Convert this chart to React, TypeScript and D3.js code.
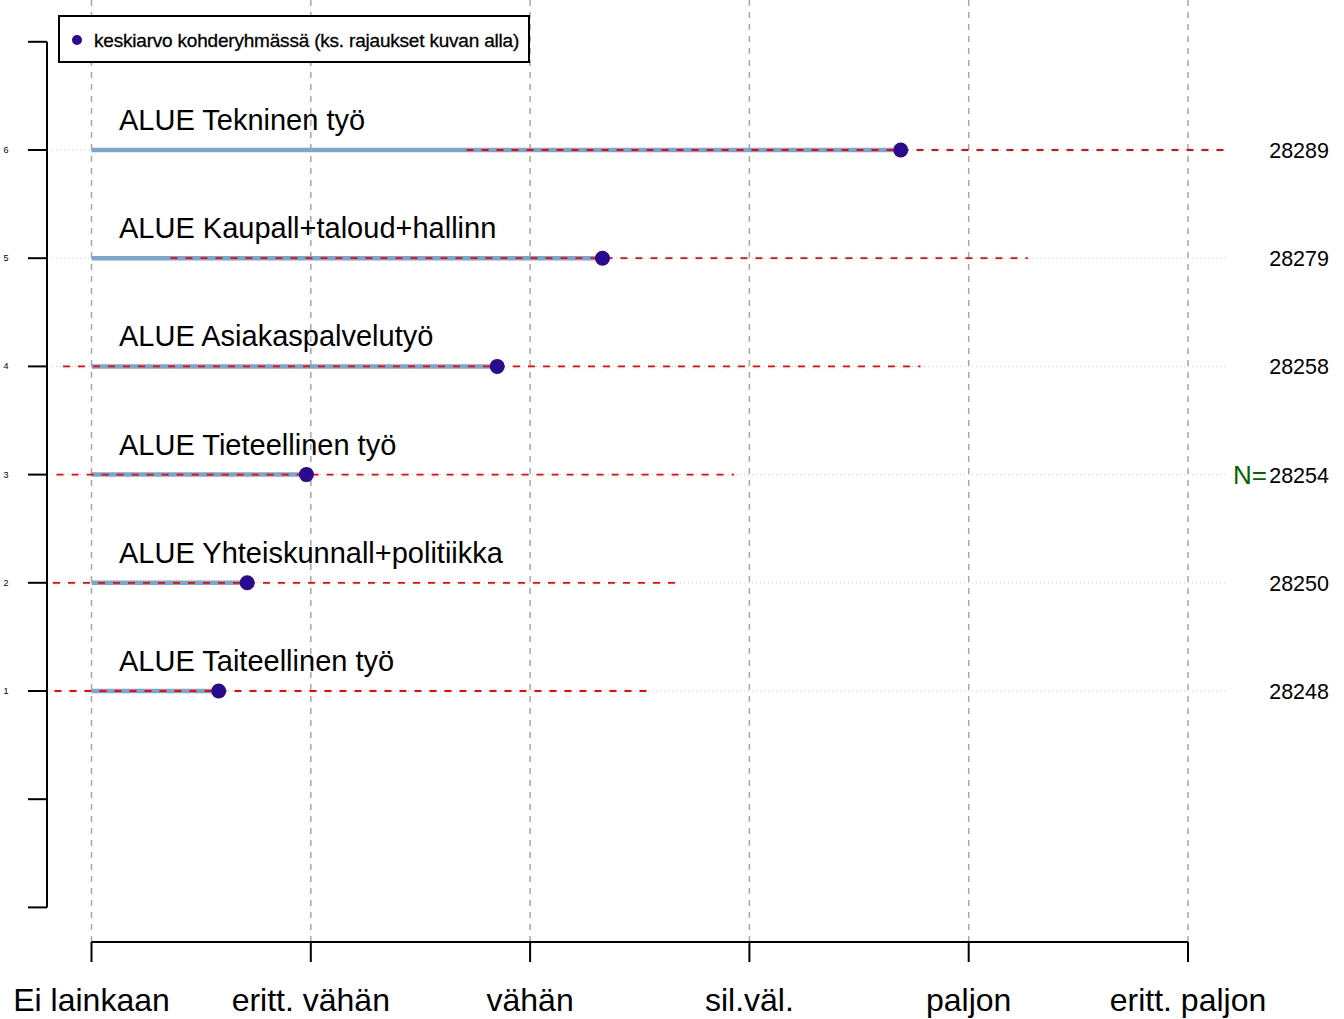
import React from "react";
import * as d3 from "d3";

const categories = [
  "ALUE Taiteellinen työ",
  "ALUE Yhteiskunnall+politiikka",
  "ALUE Tieteellinen työ",
  "ALUE Asiakaspalvelutyö",
  "ALUE Kaupall+taloud+hallinn",
  "ALUE Tekninen työ",
];
const means = [1.58, 1.71, 1.98, 2.85, 3.33, 4.69];
const lowerSD = [-0.4, -0.27, 0.02, 0.87, 1.36, 2.71];
const upperSD = [3.565, 3.69, 3.93, 4.78, 5.27, 6.64];
const nValues = [28248, 28250, 28254, 28258, 28279, 28289];
const rowIndex = [1, 2, 3, 4, 5, 6];
const xTickLabels = ["Ei lainkaan", "eritt. vähän", "vähän", "sil.väl.", "paljon", "eritt. paljon"];
const xTickValues = [1, 2, 3, 4, 5, 6];
const yAxisTicks = [-1, 0, 1, 2, 3, 4, 5, 6, 7];
const legendLabel = "keskiarvo kohderyhmässä (ks. rajaukset kuvan alla)";

export default function App() {
  const W = 1344;
  const H = 1019;
  const x = d3.scaleLinear().domain([1, 6]).range([91.5, 1188]);
  const y = d3.scaleLinear().domain([1, 6]).range([691, 150]);
  const clipL = 52;
  const clipR = 1228;
  const font = "'Liberation Sans', Arial, sans-serif";

  return (
    <svg
      width={W}
      height={H}
      style={{ position: "absolute", left: 0, top: 0, background: "#fff" }}
      fontFamily={font}
    >
      <defs>
        <clipPath id="plotclip">
          <rect x={clipL} y={0} width={clipR - clipL} height={H} />
        </clipPath>
      </defs>
      {/* vertical grid */}
      {xTickValues.map((v) => (
        <line
          key={"g" + v}
          x1={x(v)}
          x2={x(v)}
          y1={0}
          y2={942}
          stroke="#a6a6a6"
          strokeWidth={1.5}
          strokeDasharray="6,6"
        />
      ))}
      {/* dotted row lines */}
      {rowIndex.map((r) => (
        <line
          key={"d" + r}
          x1={clipL}
          x2={clipR}
          y1={y(r)}
          y2={y(r)}
          stroke="#cccccc"
          strokeWidth={1}
          strokeDasharray="1,3"
        />
      ))}
      {/* blue bars */}
      {rowIndex.map((r, i) => (
        <line
          key={"b" + r}
          x1={x(1)}
          x2={x(means[i])}
          y1={y(r)}
          y2={y(r)}
          stroke="#7BA6CD"
          strokeWidth={4.5}
        />
      ))}
      {/* red dashed sd lines */}
      <g clipPath="url(#plotclip)">
        {rowIndex.map((r, i) => (
          <line
            key={"r" + r}
            x1={x(lowerSD[i])}
            x2={x(upperSD[i])}
            y1={y(r)}
            y2={y(r)}
            stroke="#ff0000"
            strokeWidth={1.8}
            strokeDasharray="7,8"
          />
        ))}
      </g>
      {/* points */}
      {rowIndex.map((r, i) => (
        <circle key={"p" + r} cx={x(means[i])} cy={y(r)} r={7.5} fill="#2A0A8F" />
      ))}
      {/* category labels */}
      {rowIndex.map((r, i) => (
        <text key={"t" + r} x={119} y={y(r) - 20} fontSize={29} fill="#000">
          {categories[i]}
        </text>
      ))}
      {/* N labels */}
      {rowIndex.map((r, i) => (
        <text key={"n" + r} x={1329} y={y(r) + 8} fontSize={21.5} textAnchor="end" fill="#000">
          {nValues[i]}
        </text>
      ))}
      <text x={1267} y={y(3) + 9} fontSize={26} textAnchor="end" fill="#006400">
        N=
      </text>
      {/* left axis */}
      <line x1={47} x2={47} y1={y(7)} y2={y(-1)} stroke="#000" strokeWidth={2} />
      {yAxisTicks.map((v) => (
        <line key={"yt" + v} x1={28} x2={47} y1={y(v)} y2={y(v)} stroke="#000" strokeWidth={2} />
      ))}
      {rowIndex.map((r) => (
        <text key={"yl" + r} x={6} y={y(r) + 3} fontSize={9} textAnchor="middle" fill="#000">
          {r}
        </text>
      ))}
      {/* bottom axis */}
      <line x1={x(1)} x2={x(6)} y1={942} y2={942} stroke="#000" strokeWidth={2} />
      {xTickValues.map((v, i) => (
        <g key={"xt" + v}>
          <line x1={x(v)} x2={x(v)} y1={942} y2={962} stroke="#000" strokeWidth={2} />
          <text x={x(v)} y={1011} fontSize={32} textAnchor="middle" fill="#000">
            {xTickLabels[i]}
          </text>
        </g>
      ))}
      {/* legend */}
      <rect x={59} y={16} width={470} height={46} fill="#fff" stroke="#000" strokeWidth={2} />
      <circle cx={77} cy={40} r={5} fill="#2A0A8F" />
      <text x={94} y={47} fontSize={19} fill="#000" stroke="#000" strokeWidth={0.3} letterSpacing={-0.2}>
        {legendLabel}
      </text>
    </svg>
  );
}
